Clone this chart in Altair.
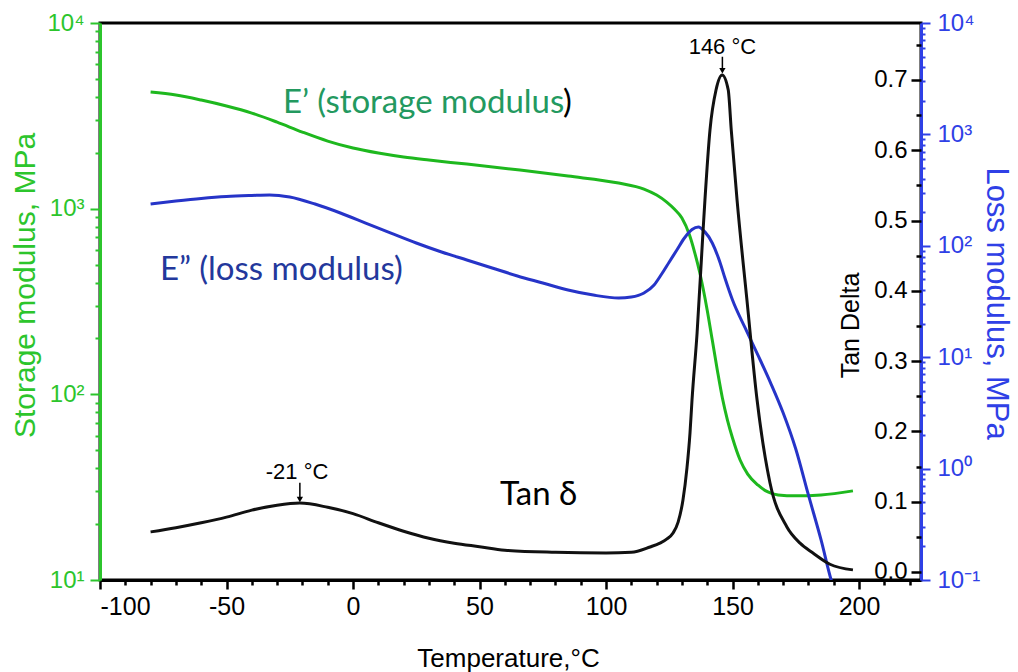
import altair as alt
import pandas as pd

# ---------------- data ----------------
storage_T = [-80, -70, -60, -50, -40, -30, -20, -10, 0, 10, 20, 30, 45, 66, 85, 105, 115, 120, 124, 127,
             130, 133, 135, 137, 140, 142, 144, 146, 148, 150, 153, 156, 160, 164, 168, 175, 185, 197.6]
storage_E = [4246, 4093, 3846, 3573, 3273, 2924, 2585, 2312, 2120, 1992, 1897, 1827, 1738, 1614, 1498, 1374, 1275, 1184, 1085, 995,
             890, 721, 584, 456, 284, 196, 135, 95.5, 72.7, 58.2, 44.3, 37.2, 32.5, 29.8, 28.7, 28.4, 28.7, 30.2]

loss_T = [-80, -70, -60, -50, -40, -33, -25, -15, -5, 5, 15, 25, 35, 45, 55, 65, 75, 85, 95, 105,
          110, 115, 119, 122, 125, 128, 131, 134, 136.5, 139, 142, 145, 147, 150, 155, 160, 165, 170, 175, 180,
          185, 189, 190.5]
loss_E = [237, 252, 266, 277, 283, 286, 274, 237, 197, 160, 130, 106, 88, 74.6, 63.2, 53.6, 46.4, 40.1, 36.1, 34.0,
          34.7, 37.7, 44.5, 55.8, 71.6, 91.6, 117.5, 140, 147.5, 134, 106, 71.6, 51.4, 32.6, 18.3, 10.5, 5.92, 3.17, 1.50, 0.58,
          0.229, 0.1, 0.078]

tan_T = [-80, -70, -60, -50, -40, -30, -21, -10, 0, 10, 20, 30, 40, 50, 60, 80, 100, 110, 117.4, 121.3,
         124.1, 126.5, 128.5, 130.4, 132, 133.2, 134, 136, 138.3, 139.1, 141.1, 143.5, 145.9, 148.3, 149.5, 151.8,
         155.7, 159.7, 164.8, 171.5, 176.7, 181.8, 188.5, 197.6]
tan_v = [0.057, 0.063, 0.070, 0.078, 0.088, 0.095, 0.098, 0.092, 0.083, 0.070, 0.058, 0.048, 0.041, 0.036, 0.031,
         0.028, 0.027, 0.028, 0.0356, 0.041, 0.047, 0.0555, 0.071, 0.102, 0.148, 0.198, 0.245, 0.34, 0.482, 0.529,
         0.629, 0.686, 0.707, 0.686, 0.629, 0.529, 0.387, 0.245, 0.127, 0.064, 0.041, 0.027, 0.011, 0.003]

x_ticks = list(range(-100, 221, 10))
green_ticks = [m * 10 ** e for e in range(1, 4) for m in range(1, 10)] + [10000]
blue_ticks = [round(m * 10.0 ** e, 6) for e in range(-1, 4) for m in range(1, 10)] + [10000]
tan_ticks = [round(i * 0.05, 2) for i in range(0, 16)]

peak_labels = ["146 °C", "-21 °C"]
peak_T = [146, -21]

# ---------------- style ----------------
W, H = 821, 557
GREEN_AX = "#2cc52c"
GREEN_LINE = "#1eb81e"
GREEN_TXT = "#23995f"
BLUE_AX = "#2f40e6"
BLUE_LINE = "#2634c8"
BLUE_TXT = "#23389c"
AX_FONT = "Liberation Sans"
ANN_FONT = "Lato"

SUP = "{'0.1':'10⁻¹','1':'10⁰','10':'10¹','100':'10²','1000':'10³','10000':'10⁴'}"
is_decade = "abs(log(datum.value)/LN10 - round(log(datum.value)/LN10)) < 0.001"

x_enc = alt.X(
    "T:Q",
    scale=alt.Scale(domain=[-100, 224.5], nice=False, zero=False),
    axis=alt.Axis(
        title="Temperature,°C", values=x_ticks,
        labelExpr="datum.value % 50 == 0 ? '' + datum.value : ''",
        labelOverlap=False, labelFont=AX_FONT, labelFontSize=25, labelColor="black",
        labelPadding=5, grid=False,
        domainColor="black", domainWidth=3, tickColor="black", tickWidth=2.5,
        tickSize={"condition": {"test": "datum.value % 50 == 0", "value": 9}, "value": 5},
        titleFont=AX_FONT, titleFontSize=26, titleFontWeight="normal", titleColor="black",
        titleX=408, titleY=78, titleBaseline="middle",
    ),
)

green_y = alt.Y(
    "v:Q",
    scale=alt.Scale(type="log", domain=[10, 10000], nice=False),
    axis=alt.Axis(
        orient="left", title="Storage modulus, MPa", values=green_ticks,
        labelExpr=f"{SUP}[''+datum.value] || ''", labelOverlap=False,
        labelFont=AX_FONT, labelFontSize=24, labelColor=GREEN_AX, labelPadding=6,
        grid=False, domainColor=GREEN_AX, domainWidth=3, tickColor=GREEN_AX, tickWidth=2,
        tickSize={"condition": {"test": is_decade, "value": 10}, "value": 5},
        titleFont=AX_FONT, titleFontSize=30, titleFontWeight="normal", titleColor=GREEN_AX,
        titleX=-75, titleY=262, titleAngle=-90, titleBaseline="middle",
    ),
)

blue_y = alt.Y(
    "v:Q",
    scale=alt.Scale(type="log", domain=[0.1, 10000], nice=False),
    axis=alt.Axis(
        orient="right", title="Loss modulus, MPa", values=blue_ticks,
        labelExpr=f"{SUP}[''+datum.value] || ''", labelOverlap=False,
        labelFont=AX_FONT, labelFontSize=24, labelColor=BLUE_AX, labelPadding=7,
        grid=False, domainColor=BLUE_AX, domainWidth=3, tickColor=BLUE_AX, tickWidth=2,
        tickSize={"condition": {"test": is_decade, "value": 9}, "value": 4},
        titleFont=AX_FONT, titleFontSize=31, titleFontWeight="normal", titleColor=BLUE_AX,
        titleX=74, titleY=280, titleAngle=90, titleBaseline="middle",
    ),
)

tan_y = alt.Y(
    "v:Q",
    scale=alt.Scale(domain=[-0.0114, 0.781], nice=False, zero=False),
    axis=alt.Axis(
        orient="left", offset=-W, title="Tan Delta", values=tan_ticks,
        labelExpr="abs(datum.value*10 - round(datum.value*10)) < 0.01 ? format(datum.value, '.1f') : ''",
        labelOverlap=False, labelFont=AX_FONT, labelFontSize=24, labelColor="black", labelPadding=4,
        grid=False, domain=False, tickColor="black", tickWidth=2.5,
        tickSize={"condition": {"test": "abs(datum.value*10 - round(datum.value*10)) < 0.01", "value": 10}, "value": 5},
        titleFont=AX_FONT, titleFontSize=25, titleFontWeight="normal", titleColor="black",
        titleX=-71, titleY=302, titleAngle=-90, titleBaseline="middle",
    ),
)

# ---------------- tables ----------------
storage_df = pd.DataFrame({"T": storage_T, "v": storage_E})
loss_df = pd.DataFrame({"T": loss_T, "v": loss_E})
tan_df = pd.DataFrame({"T": tan_T, "v": tan_v})

green_text = pd.DataFrame({"T": [-27.7], "v": [3707], "label": ["E’ (storage modulus"]})
green_paren = pd.DataFrame({"T": [83.0], "v": [3707], "label": [")"]})
blue_text = pd.DataFrame({"T": [-76.3], "v": [60.7], "label": ["E” (loss modulus)"]})
tan_text = pd.DataFrame({"T": [58.1], "v": [0.11], "label": ["Tan δ"]})
peak_text = pd.DataFrame({"T": [146, -22.1], "v": [0.747, 0.142], "label": peak_labels})
arrow_df = pd.DataFrame({"T": peak_T, "v": [0.733, 0.127], "v2": [0.716, 0.106]})
head_df = pd.DataFrame({"T": peak_T, "v": [0.713, 0.103]})

# ---------------- layers ----------------
green = alt.layer(
    alt.Chart(storage_df).mark_line(color=GREEN_LINE, strokeWidth=3, interpolate="monotone", clip=True)
    .encode(x=x_enc, y=green_y),
    alt.Chart(green_text).mark_text(align="left", baseline="middle", font=ANN_FONT, fontSize=33, color=GREEN_TXT)
    .encode(x=x_enc, y=green_y, text="label:N"),
    alt.Chart(green_paren).mark_text(align="left", baseline="middle", font=ANN_FONT, fontSize=33, color="black")
    .encode(x=x_enc, y=green_y, text="label:N"),
)

blue = alt.layer(
    alt.Chart(loss_df).mark_line(color=BLUE_LINE, strokeWidth=3, interpolate="monotone", clip=True)
    .encode(x=x_enc, y=blue_y),
    alt.Chart(blue_text).mark_text(align="left", baseline="middle", font=ANN_FONT, fontSize=33, color=BLUE_TXT)
    .encode(x=x_enc, y=blue_y, text="label:N"),
)

black = alt.layer(
    alt.Chart(tan_df).mark_line(color="#111111", strokeWidth=3, interpolate="monotone", clip=True)
    .encode(x=x_enc, y=tan_y),
    alt.Chart(tan_text).mark_text(align="left", baseline="middle", font=ANN_FONT, fontSize=33, color="black")
    .encode(x=x_enc, y=tan_y, text="label:N"),
    alt.Chart(peak_text).mark_text(align="center", baseline="middle", font=AX_FONT, fontSize=22, color="black")
    .encode(x=x_enc, y=tan_y, text="label:N"),
    alt.Chart(arrow_df).mark_rule(color="black", strokeWidth=1.5)
    .encode(x=x_enc, y=tan_y, y2="v2:Q"),
    alt.Chart(head_df).mark_point(shape="triangle-down", filled=True, size=40, color="black", opacity=1)
    .encode(x=x_enc, y=tan_y),
)

chart = (
    alt.layer(green, blue, black)
    .resolve_scale(y="independent")
    .properties(
        width=W, height=H,
        autosize=alt.AutoSizeParams(type="none"),
        padding={"left": 100, "top": 23, "right": 97, "bottom": 92},
        background="white",
    )
    .configure_view(stroke="black", strokeWidth=3)
)

chart.save("out.html", embed_options={"renderer": "svg", "actions": False})
